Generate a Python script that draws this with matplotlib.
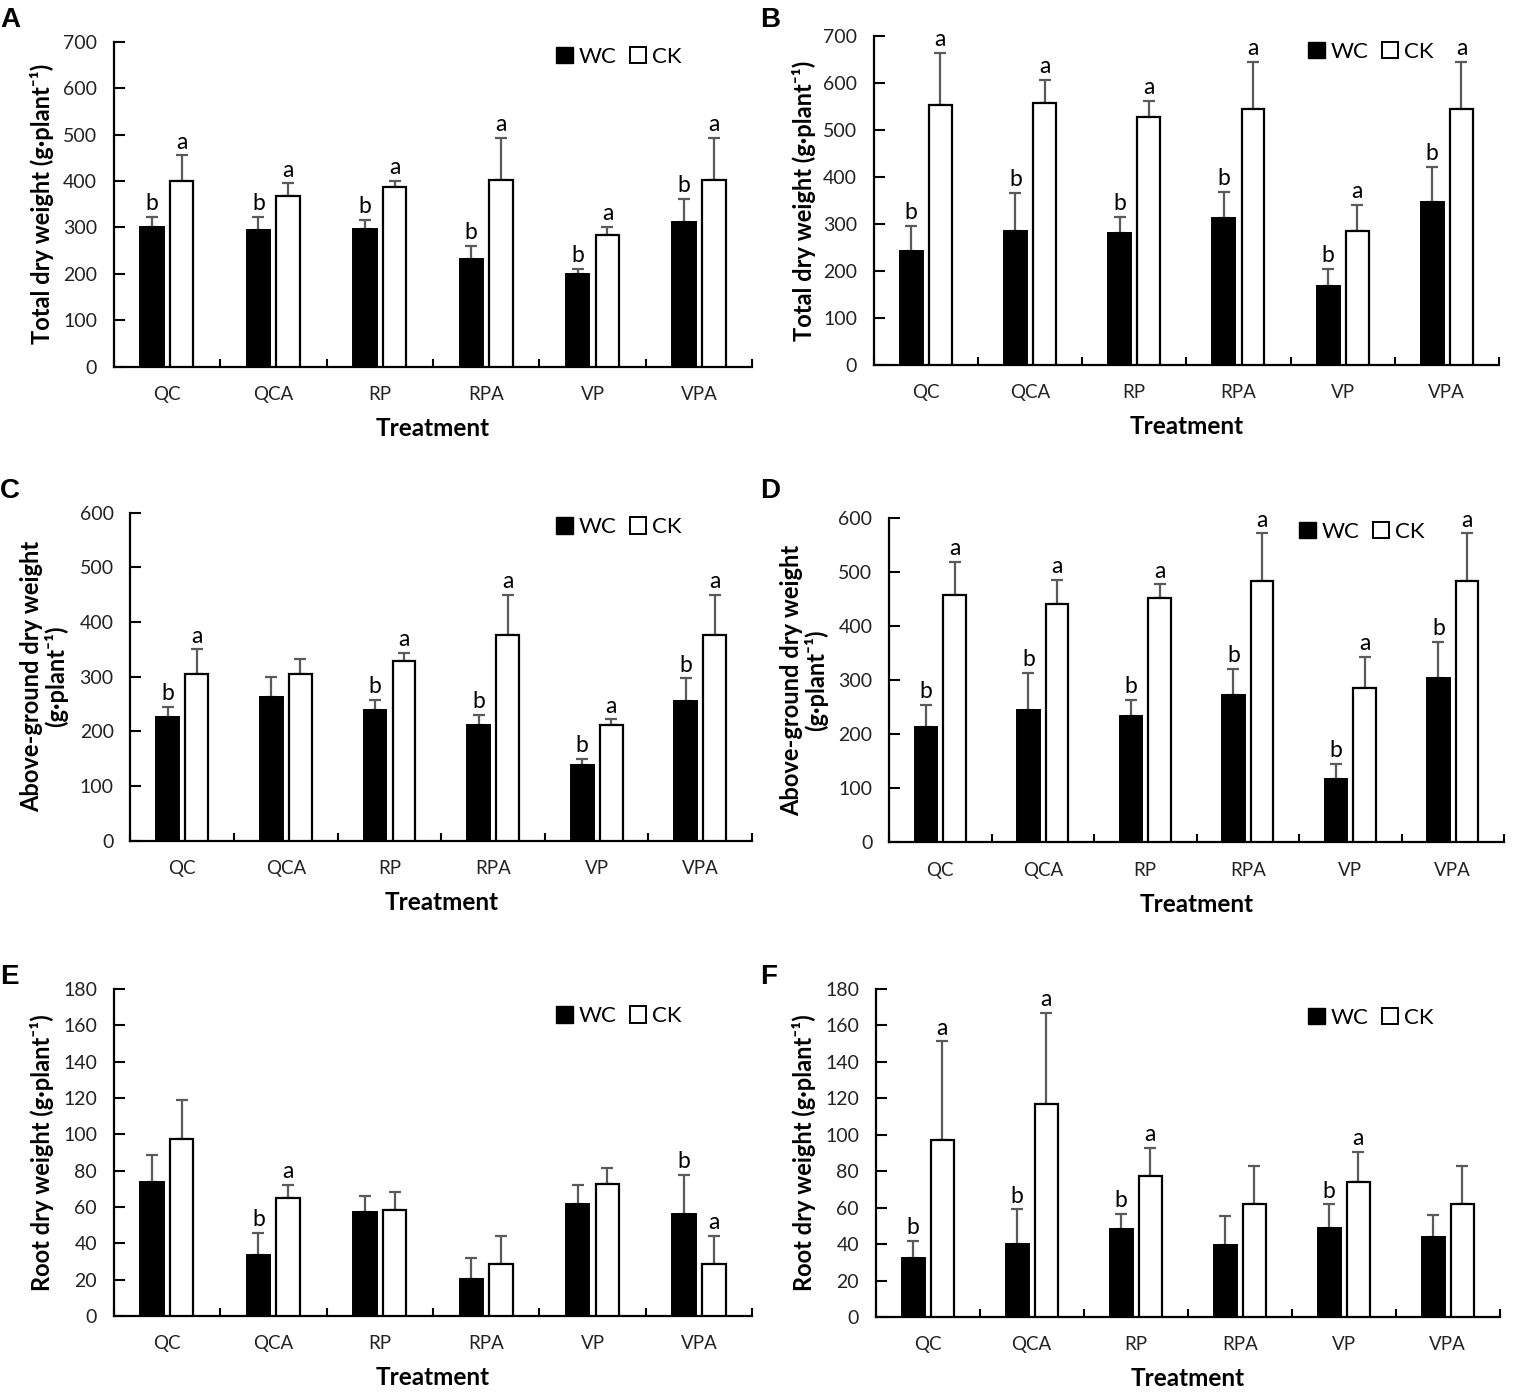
import matplotlib
matplotlib.use("Agg")
import matplotlib.pyplot as plt
import numpy as np
from matplotlib.patches import Patch
from matplotlib.ticker import FixedLocator, NullFormatter

plt.rcParams["font.family"] = ["Lato", "DejaVu Sans"]

treatments = ["QC", "QCA", "RP", "RPA", "VP", "VPA"]

# A: total dry weight, season 1
wc_a = [300, 294, 296, 233, 200, 312]
wc_a_err = [22, 29, 21, 27, 10, 49]
ck_a = [401, 368, 386, 402, 284, 402]
ck_a_err = [54, 27, 15, 90, 17, 90]
wc_a_sig = ["b", "b", "b", "b", "b", "b"]
ck_a_sig = ["a", "a", "a", "a", "a", "a"]

# B: total dry weight, season 2
wc_b = [243, 284, 280, 313, 167, 347]
wc_b_err = [53, 82, 35, 55, 38, 75]
ck_b = [553, 557, 527, 544, 286, 544]
ck_b_err = [111, 50, 35, 100, 55, 100]
wc_b_sig = ["b", "b", "b", "b", "b", "b"]
ck_b_sig = ["a", "a", "a", "a", "a", "a"]

# C: above-ground dry weight, season 1
wc_c = [226, 262, 239, 211, 138, 256]
wc_c_err = [18, 38, 18, 19, 12, 41]
ck_c = [304, 304, 328, 377, 212, 377]
ck_c_err = [46, 29, 15, 72, 10, 72]
wc_c_sig = ["b", "", "b", "b", "b", "b"]
ck_c_sig = ["a", "", "a", "a", "a", "a"]

# D: above-ground dry weight, season 2
wc_d = [214, 245, 234, 273, 118, 303]
wc_d_err = [40, 68, 30, 48, 27, 67]
ck_d = [457, 440, 452, 484, 285, 484]
ck_d_err = [61, 45, 25, 87, 58, 87]
wc_d_sig = ["b", "b", "b", "b", "b", "b"]
ck_d_sig = ["a", "a", "a", "a", "a", "a"]

# E: root dry weight, season 1
wc_e = [73.5, 33.6, 57, 20.6, 61.5, 56]
wc_e_err = [15, 12, 9, 11.4, 10.7, 21.7]
ck_e = [97.4, 64.8, 58.6, 28.8, 72.7, 28.8]
ck_e_err = [21.5, 7.2, 9.5, 15.2, 9, 15.2]
wc_e_sig = ["", "b", "", "", "", "b"]
ck_e_sig = ["", "a", "", "", "", "a"]

# F: root dry weight, season 2
wc_f = [32.2, 40.1, 48, 39.7, 49, 44.1]
wc_f_err = [9.7, 18.9, 8.6, 15.7, 12.8, 12.1]
ck_f = [97.2, 116.8, 77.1, 61.9, 74.2, 61.9]
ck_f_err = [54, 50.2, 15.5, 21, 16.3, 21]
wc_f_sig = ["b", "b", "b", "", "b", ""]
ck_f_sig = ["a", "a", "a", "", "a", ""]

total_label = "Total dry weight (g·plant⁻¹)"
above_label = "Above-ground dry weight\n(g·plant⁻¹)"
root_label = "Root dry weight (g·plant⁻¹)"

panels = [
    dict(tag="A", wc=wc_a, wce=wc_a_err, ck=ck_a, cke=ck_a_err, ws=wc_a_sig, cs=ck_a_sig,
         ylabel=total_label, ymax=700, step=100,
         rect=[0.0740, 0.7367, 0.4157, 0.2334], leg=(0.693, 0.954), ylx=-0.112, tagpos=(0.0, 0.995)),
    dict(tag="B", wc=wc_b, wce=wc_b_err, ck=ck_b, cke=ck_b_err, ws=wc_b_sig, cs=ck_b_sig,
         ylabel=total_label, ymax=700, step=100,
         rect=[0.5688, 0.7380, 0.4071, 0.2362], leg=(0.695, 0.952), ylx=-0.1115, tagpos=(0.495, 0.995)),
    dict(tag="C", wc=wc_c, wce=wc_c_err, ck=ck_c, cke=ck_c_err, ws=wc_c_sig, cs=ck_c_sig,
         ylabel=above_label, ymax=600, step=100,
         rect=[0.0849, 0.3965, 0.4047, 0.2355], leg=(0.685, 0.955), ylx=-0.139, tagpos=(0.0, 0.657)),
    dict(tag="D", wc=wc_d, wce=wc_d_err, ck=ck_d, cke=ck_d_err, ws=wc_d_sig, cs=ck_d_sig,
         ylabel=above_label, ymax=600, step=100,
         rect=[0.5788, 0.3953, 0.4004, 0.2330], leg=(0.667, 0.957), ylx=-0.138, tagpos=(0.495, 0.657)),
    dict(tag="E", wc=wc_e, wce=wc_e_err, ck=ck_e, cke=ck_e_err, ws=wc_e_sig, cs=ck_e_sig,
         ylabel=root_label, ymax=180, step=20,
         rect=[0.0740, 0.0553, 0.4157, 0.2347], leg=(0.693, 0.917), ylx=-0.113, tagpos=(0.0, 0.308)),
    dict(tag="F", wc=wc_f, wce=wc_f_err, ck=ck_f, cke=ck_f_err, ws=wc_f_sig, cs=ck_f_sig,
         ylabel=root_label, ymax=180, step=20,
         rect=[0.5701, 0.0546, 0.4063, 0.2354], leg=(0.693, 0.913), ylx=-0.115, tagpos=(0.495, 0.308)),
]

err_color = "#5a5a5a"
bar_w = 0.22
off = 0.14

fig = plt.figure(figsize=(15.36, 13.93), dpi=100)

for p in panels:
    ax = fig.add_axes(p["rect"])
    x = np.arange(len(treatments))
    wc = np.array(p["wc"])
    ck = np.array(p["ck"])
    wce = np.array(p["wce"])
    cke = np.array(p["cke"])

    ax.bar(x - off, wc, bar_w, color="black", edgecolor="black", linewidth=1.4, zorder=3)
    ax.bar(x + off, ck, bar_w, color="white", edgecolor="black", linewidth=1.6, zorder=3)
    ax.errorbar(x - off, wc, yerr=[np.zeros_like(wce), wce], fmt="none", ecolor=err_color,
                elinewidth=1.6, capsize=4.5, capthick=1.6, zorder=2)
    ax.errorbar(x + off, ck, yerr=[np.zeros_like(cke), cke], fmt="none", ecolor=err_color,
                elinewidth=1.6, capsize=4.5, capthick=1.6, zorder=2)

    for xi, top, s in zip(x - off, wc + wce, p["ws"]):
        if s:
            ax.annotate(s, (xi, top), xytext=(0, 2), textcoords="offset points",
                        ha="center", va="bottom", fontsize=16.5)
    for xi, top, s in zip(x + off, ck + cke, p["cs"]):
        if s:
            ax.annotate(s, (xi, top), xytext=(0, 2), textcoords="offset points",
                        ha="center", va="bottom", fontsize=16.5)

    ax.set_xlim(-0.5, len(treatments) - 0.5)
    ax.set_ylim(0, p["ymax"])
    ax.set_yticks(np.arange(0, p["ymax"] + 1, p["step"]))

    ax.xaxis.set_major_locator(FixedLocator(np.arange(-0.5, len(treatments), 1.0)))
    ax.xaxis.set_major_formatter(NullFormatter())
    ax.xaxis.set_minor_locator(FixedLocator(x))
    ax.set_xticklabels(treatments, minor=True)
    ax.tick_params(axis="x", which="major", direction="in", length=6, width=1.5)
    ax.tick_params(axis="x", which="minor", length=0, pad=14, labelsize=13.5, labelcolor="#222222")
    ax.tick_params(axis="y", direction="in", length=8, width=1.5, pad=12,
                   labelsize=14, labelcolor="#222222")

    for side in ("top", "right"):
        ax.spines[side].set_visible(False)
    for side in ("left", "bottom"):
        ax.spines[side].set_linewidth(1.6)

    ax.set_ylabel(p["ylabel"], fontsize=17, fontweight="bold", linespacing=1.05)
    ax.yaxis.set_label_coords(p["ylx"], 0.5)
    ax.yaxis.label.set_va("center")
    ax.set_xlabel("Treatment", fontsize=17.5, fontweight="bold")
    ax.xaxis.set_label_coords(0.5, -62 / (p["rect"][3] * 1393))
    ax.xaxis.label.set_va("center")

    handles = [Patch(facecolor="black", edgecolor="black", label="WC"),
               Patch(facecolor="white", edgecolor="black", linewidth=1.4, label="CK")]
    ax.legend(handles=handles, ncol=2, frameon=False, loc="center left",
              bbox_to_anchor=p["leg"], fontsize=16, handlelength=0.75, handleheight=0.75,
              handletextpad=0.25, columnspacing=0.6, borderpad=0, borderaxespad=0)

    fig.text(p["tagpos"][0], p["tagpos"][1], p["tag"], fontsize=20, fontweight="bold",
             family=["Liberation Sans", "DejaVu Sans"], ha="left", va="top")

fig.savefig("out.png", dpi=100)
